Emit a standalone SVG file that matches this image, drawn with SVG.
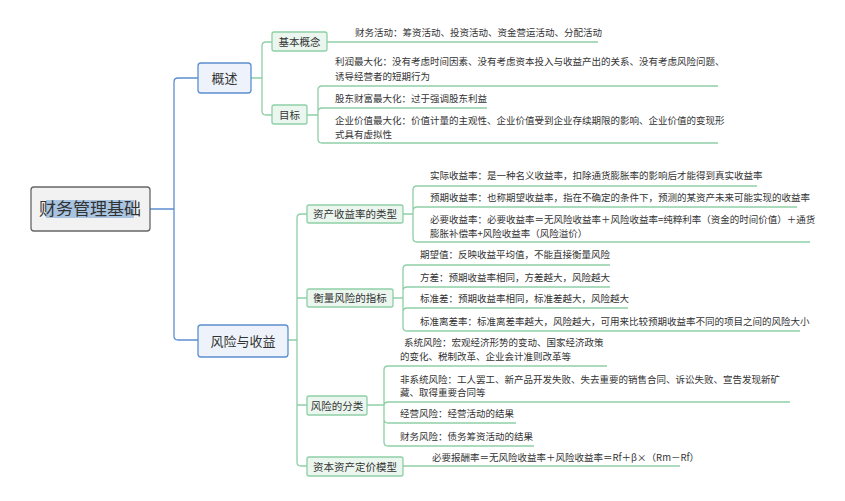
<svg xmlns="http://www.w3.org/2000/svg" width="845" height="501" viewBox="0 0 845 501">
<style>
text{font-family:"Noto Sans CJK SC","Liberation Sans",sans-serif;fill:#333}
.t{font-size:9.5px}
.l2{font-size:10.5px}
.l1{font-size:13px}
.g{fill:none;stroke:#8fcfa6;stroke-width:1.3}
.b{fill:none;stroke:#5b8fd0;stroke-width:1.3}
.gb{fill:#eaf6ee;stroke:#8fcfa6;stroke-width:1.3}
.bb{fill:#eef3fb;stroke:#5b8fd0;stroke-width:1.3}
</style>
<rect width="845" height="501" fill="#fff"/>
<g id="connectors">
<path class="b" d="M150 209H174M198 78H178Q174 78 174 82V336Q174 340 178 340H198"/>
<path class="g" d="M251 78H262M272 42H266Q262 42 262 46V111Q262 115 266 115H272"/>
<path class="g" d="M327 42H598"/>
<path class="g" d="M307 115H318M718 86H322Q318 86 318 90V139Q318 143 322 143H718M318 112Q318 108 322 108H487"/>
<path class="g" d="M288 340H297M307 214H301Q297 214 297 218V462Q297 466 301 466H307M297 298H307M297 405H307"/>
<path class="g" d="M403 214H413M757 186H417Q413 186 413 190V238Q413 242 417 242H810M413 211Q413 207 417 207H797"/>
<path class="g" d="M393 298H403M610 265H407Q403 265 403 269V327Q403 331 407 331H800M403 291Q403 287 407 287H610M403 312Q403 308 407 308H628"/>
<path class="g" d="M367 405H384M607 366H388Q384 366 384 370V442Q384 446 388 446H534M384 406Q384 402 388 402H790M384 419Q384 423 388 423H516"/>
<path class="g" d="M403 466H680"/>
</g>
<g id="root"><rect x="31" y="187" width="119" height="44" rx="3" fill="#f2f2f2" stroke="#666" stroke-width="1.3"/><rect x="46" y="200" width="88" height="18" fill="#a9c4e0"/><text x="90" y="215" font-size="17" text-anchor="middle">财务管理基础</text></g>
<g id="gaishu"><rect class="bb" x="198" y="63" width="53" height="30" rx="3"/><text class="l1" x="224.5" y="83" text-anchor="middle">概述</text></g>
<g id="fengxian"><rect class="bb" x="198" y="325" width="90" height="32" rx="3"/><text class="l1" x="243" y="346" text-anchor="middle">风险与收益</text></g>
<g id="jiben"><rect class="gb" x="272" y="32" width="55" height="19" rx="2"/><text class="l2" x="299.5" y="45.5" text-anchor="middle">基本概念</text></g>
<g id="mubiao"><rect class="gb" x="272" y="105" width="35" height="19" rx="2"/><text class="l2" x="289.5" y="118.5" text-anchor="middle">目标</text></g>
<g id="zichan"><rect class="gb" x="307" y="205" width="96" height="18" rx="2"/><text class="l2" x="355" y="218" text-anchor="middle">资产收益率的类型</text></g>
<g id="hengliang"><rect class="gb" x="307" y="289" width="86" height="18" rx="2"/><text class="l2" x="350" y="302" text-anchor="middle">衡量风险的指标</text></g>
<g id="fenlei"><rect class="gb" x="307" y="396" width="60" height="19" rx="2"/><text class="l2" x="337" y="409.5" text-anchor="middle">风险的分类</text></g>
<g id="capm"><rect class="gb" x="307" y="457" width="96" height="19" rx="2"/><text class="l2" x="355" y="470.5" text-anchor="middle">资本资产定价模型</text></g>
<g id="leaves" class="t">
<text class="t" x="355" y="36">财务活动：筹资活动、投资活动、资金营运活动、分配活动</text>
<text class="t" x="335" y="65">利润最大化：没有考虑时间因素、没有考虑资本投入与收益产出的关系、没有考虑风险问题、</text>
<text class="t" x="335" y="80">诱导经营者的短期行为</text>
<text class="t" x="335" y="102">股东财富最大化：过于强调股东利益</text>
<text class="t" x="335" y="124">企业价值最大化：价值计量的主观性、企业价值受到企业存续期限的影响、企业价值的变现形</text>
<text class="t" x="335" y="138">式具有虚拟性</text>
<text class="t" x="430" y="179">实际收益率：是一种名义收益率，扣除通货膨胀率的影响后才能得到真实收益率</text>
<text class="t" x="430" y="201">预期收益率：也称期望收益率，指在不确定的条件下，预测的某资产未来可能实现的收益率</text>
<text class="t" x="430" y="223">必要收益率：必要收益率＝无风险收益率＋风险收益率=纯粹利率（资金的时间价值）＋通货</text>
<text class="t" x="430" y="237">膨胀补偿率+风险收益率（风险溢价）</text>
<text class="t" x="420" y="258">期望值：反映收益平均值，不能直接衡量风险</text>
<text class="t" x="420" y="281">方差：预期收益率相同，方差越大，风险越大</text>
<text class="t" x="420" y="302">标准差：预期收益率相同，标准差越大，风险越大</text>
<text class="t" x="420" y="325">标准离差率：标准离差率越大，风险越大，可用来比较预期收益率不同的项目之间的风险大小</text>
<text class="t" x="404" y="346">系统风险：宏观经济形势的变动、国家经济政策</text>
<text class="t" x="400" y="360">的变化、税制改革、企业会计准则改革等</text>
<text class="t" x="400" y="383">非系统风险：工人罢工、新产品开发失败、失去重要的销售合同、诉讼失败、宣告发现新矿</text>
<text class="t" x="400" y="396">藏、取得重要合同等</text>
<text class="t" x="400" y="417">经营风险：经营活动的结果</text>
<text class="t" x="400" y="440">财务风险：债务筹资活动的结果</text>
<text class="t" x="432" y="461">必要报酬率＝无风险收益率＋风险收益率＝Rf＋β×（Rm－Rf）</text>
</g>
</svg>
